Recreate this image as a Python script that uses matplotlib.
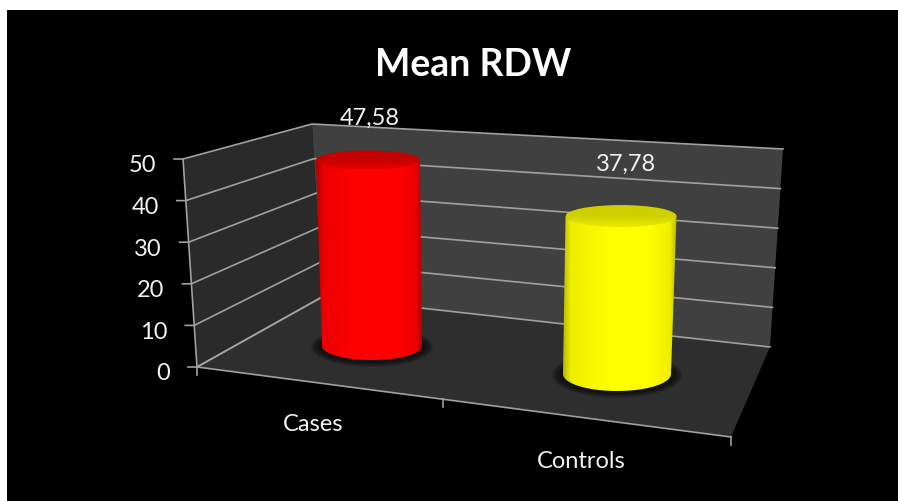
import numpy as np
import matplotlib
matplotlib.use('Agg')
import matplotlib.pyplot as plt
from matplotlib.colors import LinearSegmentedColormap
from matplotlib.patches import Ellipse, Polygon, Rectangle

plt.rcParams['font.family'] = ['Lato', 'DejaVu Sans']

# Data
categories = ['Cases', 'Controls']
values = [47.58, 37.78]
value_labels = ['47,58', '37,78']
y_ticks = [0, 10, 20, 30, 40, 50]
title = 'Mean RDW'

# Chart geometry in image pixels (the 3D box)
FRONT_TOP = (183, 160)
FRONT_BOTTOM = (197, 368)
BACK_TOP = (312, 125)
BACK_BOTTOM = (322, 298)
RIGHT_TOP = (783, 150)
RIGHT_BOTTOM = (770, 348)
FLOOR_RIGHT = (731, 438)

# cylinder layout: base centre, base half axes, top half axes, px per unit
bar_base = [(372, 347), (617, 375)]
bar_base_axes = [(50, 14), (54, 17)]
bar_top_axes = [(52, 9.5), (55.5, 11)]
bar_lean = [-4, 4]
bar_scale = [3.91, 4.18]
# edge, shoulder, middle of the body; back and front of the cap
bar_cols = [('#b40000', '#ee0000', '#ff0000', '#c40000', '#e60000'),
            ('#b8b800', '#eeee00', '#ffff00', '#d0d000', '#eaea00')]

GRID = '#a0a0a0'
TEXT = '#f2f2f2'


def lerp(a, b, t):
    return (a[0] + (b[0] - a[0]) * t, a[1] + (b[1] - a[1]) * t)


fig = plt.figure(figsize=(8.98, 5.02), dpi=100, facecolor='white')
ax = fig.add_axes([0, 0, 1, 1])
ax.set_xlim(0, 898)
ax.set_ylim(502, 0)
ax.axis('off')

# black slide, white only on the top and left edge
ax.add_patch(Rectangle((7, 11), 891, 491, fc='black', ec='none', zorder=0))

# walls and floor
ax.add_patch(Polygon([FRONT_TOP, BACK_TOP, BACK_BOTTOM, FRONT_BOTTOM], fc='#2a2a2a', ec='none', zorder=1))
ax.add_patch(Polygon([BACK_TOP, RIGHT_TOP, RIGHT_BOTTOM, BACK_BOTTOM], fc='#404040', ec='none', zorder=1))
ax.add_patch(Polygon([BACK_BOTTOM, RIGHT_BOTTOM, FLOOR_RIGHT, FRONT_BOTTOM], fc='#2e2e2e', ec='none', zorder=1))

# gridlines, ticks and value axis labels
for v in y_ticks:
    t = v / max(y_ticks)
    p0 = lerp(FRONT_BOTTOM, FRONT_TOP, t)
    p1 = lerp(BACK_BOTTOM, BACK_TOP, t)
    p2 = lerp(RIGHT_BOTTOM, RIGHT_TOP, t)
    ax.plot([p0[0] - 9, p0[0], p1[0], p2[0]], [p0[1], p0[1], p1[1], p2[1]],
            color=GRID, lw=1.2, zorder=2, solid_joinstyle='miter')
    ax.text(p0[0] - 27, p0[1] + 6, str(v), color=TEXT, fontsize=17, ha='right', va='center')

# axis and floor edges
ax.plot([FRONT_TOP[0], FRONT_BOTTOM[0]], [FRONT_TOP[1], FRONT_BOTTOM[1]], color=GRID, lw=1.2, zorder=2)
ax.plot([FRONT_BOTTOM[0], FLOOR_RIGHT[0]], [FRONT_BOTTOM[1], FLOOR_RIGHT[1]], color=GRID, lw=1.2, zorder=2)
ax.plot([BACK_BOTTOM[0], FRONT_BOTTOM[0]], [BACK_BOTTOM[1], FRONT_BOTTOM[1]], color=GRID, lw=1.2, zorder=2)
for t in [0, 0.46, 1]:
    p = lerp(FRONT_BOTTOM, FLOOR_RIGHT, t)
    ax.plot([p[0], p[0]], [p[1], p[1] + 8], color=GRID, lw=1.2, zorder=2)

# cylinders
theta = np.linspace(0, np.pi, 80)
for i, val in enumerate(values):
    bx, by = bar_base[i]
    brx, bry = bar_base_axes[i]
    trx, try_ = bar_top_axes[i]
    tx, ty = bx + bar_lean[i], by - val * bar_scale[i]
    edge, shoulder, mid, cap_back, cap_front = bar_cols[i]

    # soft shadow on the floor
    for k in range(6):
        ax.add_patch(Ellipse((bx, by + 1), 2 * brx + 22 - 3 * k, 2 * bry + 12 - 2 * k,
                             fc='black', ec='none', alpha=0.14, zorder=3))

    # body: lower half of base ellipse joined to the top ellipse centre line
    lower = np.column_stack([bx + brx * np.cos(theta), by + bry * np.sin(theta)])
    body = Polygon(np.vstack([[(tx - trx, ty), (tx + trx, ty)], lower]), closed=True,
                   transform=ax.transData, fc='none', ec='none')
    ax.add_patch(body)
    cmap = LinearSegmentedColormap.from_list(
        'cyl', [(0, edge), (0.07, shoulder), (0.4, mid), (0.75, mid), (0.94, shoulder), (1, edge)])
    xleft = min(tx - trx, bx - brx)
    xright = max(tx + trx, bx + brx)
    grad = np.linspace(0, 1, 256).reshape(1, -1)
    im = ax.imshow(grad, cmap=cmap, extent=(xleft, xright, by + bry, ty), aspect='auto', zorder=4)
    im.set_clip_path(body)

    # top cap, darker at the back and fading into the body at the front
    cap = Ellipse((tx, ty), 2 * trx, 2 * try_, fc='none', ec='none')
    ax.add_patch(cap)
    cap_cmap = LinearSegmentedColormap.from_list('cap', [cap_back, cap_back, cap_front])
    im2 = ax.imshow(np.linspace(0, 1, 64).reshape(-1, 1), cmap=cap_cmap,
                    extent=(tx - trx, tx + trx, ty + try_, ty - try_), aspect='auto', zorder=5)
    im2.set_clip_path(cap)

ax.set_xlim(0, 898)
ax.set_ylim(502, 0)

# texts
ax.text(473, 65, title, color='white', fontsize=27, fontweight='bold', ha='center', va='center', zorder=8)
ax.text(370, 118, value_labels[0], color=TEXT, fontsize=17, ha='center', va='center', zorder=8)
ax.text(626, 164, value_labels[1], color=TEXT, fontsize=17, ha='center', va='center', zorder=8)
ax.text(313, 425, categories[0], color=TEXT, fontsize=17, ha='center', va='center', zorder=8)
ax.text(581, 462, categories[1], color=TEXT, fontsize=17, ha='center', va='center', zorder=8)

fig.savefig('out.png', dpi=100, facecolor='white')
